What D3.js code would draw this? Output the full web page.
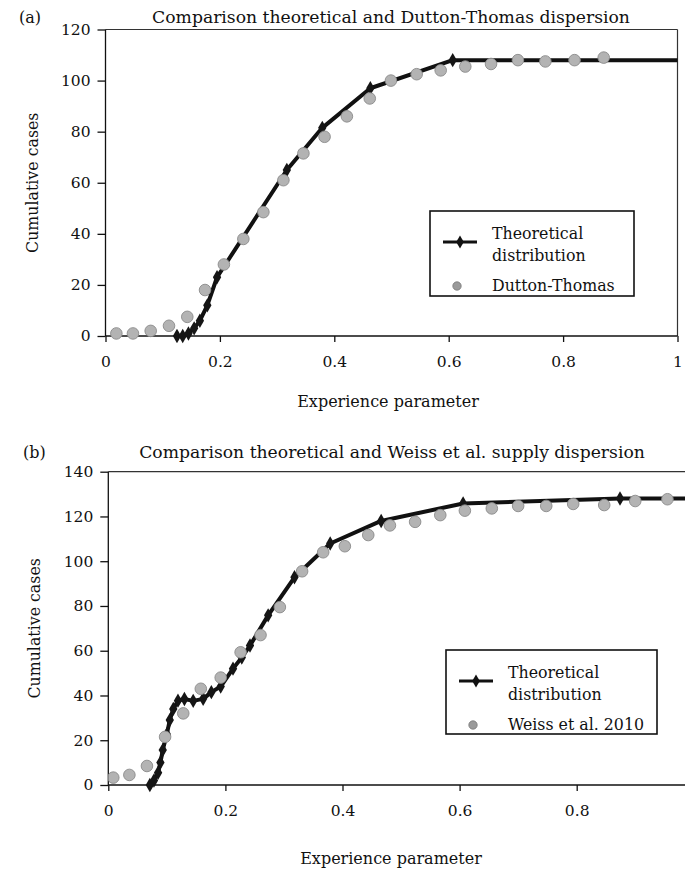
<!DOCTYPE html>
<html><head><meta charset="utf-8">
<script src="https://cdn.jsdelivr.net/npm/d3@7"></script>
<style>
body{margin:0;background:#fff;}
svg{display:block;}
text{font-family:"DejaVu Serif",serif;fill:#111;}
</style></head>
<body>
<svg id="chart" width="685" height="871"></svg>
<script>
// ---- Panel (a) data ----
const theoA_x = [0.125, 0.135, 0.145, 0.155, 0.165, 0.178, 0.195, 0.317, 0.379, 0.463, 0.607, 1.05];
const theoA_y = [0, 0, 1, 3, 6, 12, 23, 65, 81.5, 97, 108, 108];
const duttonA_x = [0.019, 0.048, 0.079, 0.111, 0.143, 0.174, 0.207, 0.241, 0.276, 0.311, 0.346, 0.383, 0.422, 0.462, 0.499, 0.544, 0.586, 0.629, 0.674, 0.721, 0.769, 0.820, 0.871];
const duttonA_y = [1, 1, 2, 4, 7.5, 18, 28, 38, 48.5, 61, 71.5, 78, 86, 93, 100, 102.5, 104, 105.5, 106.5, 108, 107.5, 108, 109];
const xTicksA = [0, 0.2, 0.4, 0.6, 0.8, 1];
const yTicksA = [0, 20, 40, 60, 80, 100, 120];

// ---- Panel (b) data ----
const theoB_x = [0.071, 0.078, 0.085, 0.089, 0.093, 0.100, 0.105, 0.111, 0.119, 0.130, 0.145, 0.162, 0.176, 0.192, 0.213, 0.228, 0.242, 0.273, 0.318, 0.379, 0.466, 0.606, 0.874, 1.05];
const theoB_y = [0, 2, 5.5, 10, 15.6, 22.7, 29, 34, 37.7, 38.4, 37.6, 38.5, 41.5, 44, 52, 57, 62.3, 75.8, 92.8, 107.9, 118, 125.8, 128, 128];
const weissB_x = [0.0085, 0.036, 0.066, 0.097, 0.128, 0.158, 0.192, 0.226, 0.260, 0.293, 0.331, 0.367, 0.404, 0.444, 0.481, 0.524, 0.567, 0.609, 0.655, 0.700, 0.748, 0.794, 0.847, 0.900, 0.955];
const weissB_y = [3.3, 4.5, 8.5, 21.5, 32, 43, 48, 59.3, 67, 79.5, 95.5, 104, 106.7, 111.7, 116, 117.6, 120.6, 122.6, 123.6, 124.7, 124.7, 125.6, 125.1, 126.9, 127.7];
const xTicksB = [0, 0.2, 0.4, 0.6, 0.8];
const yTicksB = [0, 20, 40, 60, 80, 100, 120, 140];

const svg = d3.select("#chart");

function panel(cfg) {
  const g = svg.append("g");
  const x = d3.scaleLinear().domain([0, 1]).range([cfg.left, cfg.right]);
  const y = d3.scaleLinear().domain([0, cfg.yMax]).range([cfg.bottom, cfg.top]);

  const cid = "clip" + cfg.id;
  svg.append("defs").append("clipPath").attr("id", cid)
    .append("rect").attr("x", cfg.left).attr("y", cfg.top - 8)
    .attr("width", cfg.right - cfg.left).attr("height", cfg.bottom - cfg.top + 16);

  // frame (top & right)
  g.append("line").attr("x1", cfg.left).attr("x2", cfg.right).attr("y1", cfg.top).attr("y2", cfg.top)
    .attr("stroke", "#333").attr("stroke-width", 1.2);
  g.append("line").attr("x1", cfg.right).attr("x2", cfg.right).attr("y1", cfg.top).attr("y2", cfg.bottom)
    .attr("stroke", "#333").attr("stroke-width", 1.2);

  // axes
  const xAxis = d3.axisBottom(x).tickValues(cfg.xTicks).tickSize(6).tickPadding(14)
    .tickFormat(d => d === 0 ? "0" : d === 1 ? "1" : d3.format(".1f")(d));
  const gx = g.append("g").attr("transform", `translate(0,${cfg.bottom})`).call(xAxis);
  const yAxis = d3.axisLeft(y).tickValues(cfg.yTicks).tickSize(8).tickPadding(7);
  const gy = g.append("g").attr("transform", `translate(${cfg.left},0)`).call(yAxis);
  [gx, gy].forEach(a => {
    a.select(".domain").attr("stroke", "#111").attr("stroke-width", 1.3);
    a.selectAll(".tick line").attr("stroke", "#111").attr("stroke-width", 1.3);
    a.selectAll("text").attr("font-family", "DejaVu Serif").attr("font-size", 15.5).attr("fill", "#111");
  });
  gx.select(".domain").attr("d", `M${cfg.left},0H${cfg.right}`);
  gy.select(".domain").attr("d", `M0,${cfg.bottom}V${cfg.top}`);

  const plot = g.append("g").attr("clip-path", `url(#${cid})`);
  const theo = cfg.tx.map((v, i) => [v, cfg.ty[i]]);
  const obs = cfg.ox.map((v, i) => [v, cfg.oy[i]]);

  plot.append("path").datum(theo)
    .attr("d", d3.line().x(d => x(d[0])).y(d => y(d[1])))
    .attr("fill", "none").attr("stroke", "#111").attr("stroke-width", 4).attr("stroke-linejoin", "round");
  plot.selectAll(".dia").data(theo).join("path")
    .attr("transform", d => `translate(${x(d[0])},${y(d[1])})`)
    .attr("d", d3.symbol(d3.symbolDiamond, 60)())
    .attr("fill", "#151515");
  plot.selectAll(".obs").data(obs).join("circle")
    .attr("cx", d => x(d[0])).attr("cy", d => y(d[1])).attr("r", 5.8)
    .attr("fill", "#b3b3b3").attr("stroke", "#8a8a8a").attr("stroke-width", 0.9);

  // titles
  svg.append("text").attr("x", cfg.titleX).attr("y", cfg.titleY).attr("text-anchor", "middle")
    .attr("font-size", 17.2).text(cfg.title);
  svg.append("text").attr("x", cfg.tagX).attr("y", cfg.titleY).attr("font-size", 16).text(cfg.tag);
  svg.append("text").attr("x", cfg.xLabX).attr("y", cfg.xLabY).attr("text-anchor", "middle")
    .attr("font-size", 16).text("Experience parameter");
  svg.append("text").attr("transform", `translate(${cfg.yLabX},${(cfg.top + cfg.bottom) / 2}) rotate(-90)`)
    .attr("text-anchor", "middle").attr("font-size", 15.8).text("Cumulative cases");

  // legend
  const L = cfg.legend;
  g.append("rect").attr("x", L.x).attr("y", L.y).attr("width", L.w).attr("height", L.h)
    .attr("fill", "#fff").attr("stroke", "#111").attr("stroke-width", 1.6);
  g.append("line").attr("x1", L.x + 13).attr("x2", L.x + 47).attr("y1", L.y + 31).attr("y2", L.y + 31)
    .attr("stroke", "#111").attr("stroke-width", 3);
  g.append("path").attr("transform", `translate(${L.x + 30},${L.y + 31})`)
    .attr("d", d3.symbol(d3.symbolDiamond, 50)()).attr("fill", "#111");
  g.append("circle").attr("cx", L.x + 27).attr("cy", L.y + 75).attr("r", 4.2)
    .attr("fill", "#9a9a9a").attr("stroke", "#777").attr("stroke-width", 0.8);
  const tx = L.x + 62;
  g.append("text").attr("x", tx).attr("y", L.y + 28).attr("font-size", 15.8).text("Theoretical");
  g.append("text").attr("x", tx).attr("y", L.y + 50).attr("font-size", 15.8).text("distribution");
  g.append("text").attr("x", tx).attr("y", L.y + 80).attr("font-size", 15.8).text(L.obsName);
}

panel({
  id: "a", left: 105.5, right: 677.5, top: 29.5, bottom: 336, yMax: 120,
  xTicks: xTicksA, yTicks: yTicksA,
  tx: theoA_x, ty: theoA_y, ox: duttonA_x, oy: duttonA_y,
  title: "Comparison theoretical and Dutton-Thomas dispersion", titleX: 391, titleY: 23, tag: "(a)", tagX: 19,
  xLabX: 388, xLabY: 407, yLabX: 38,
  legend: { x: 430, y: 211, w: 204, h: 85, obsName: "Dutton-Thomas" }
});

panel({
  id: "b", left: 108.3, right: 693.8, top: 471.7, bottom: 785, yMax: 140,
  xTicks: xTicksB, yTicks: yTicksB,
  tx: theoB_x, ty: theoB_y, ox: weissB_x, oy: weissB_y,
  title: "Comparison theoretical and Weiss et al. supply dispersion", titleX: 392, titleY: 458, tag: "(b)", tagX: 23,
  xLabX: 391, xLabY: 864, yLabX: 40,
  legend: { x: 446, y: 650, w: 211, h: 84, obsName: "Weiss et al. 2010" }
});
</script>
</body></html>
